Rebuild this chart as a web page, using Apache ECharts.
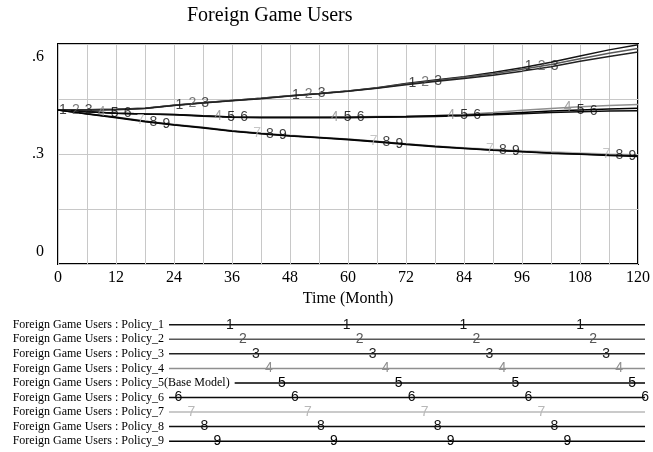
<!DOCTYPE html>
<html>
<head>
<meta charset="utf-8">
<script src="https://cdn.jsdelivr.net/npm/echarts@6/dist/echarts.min.js"></script>
<style>
  html, body { margin: 0; padding: 0; background: #ffffff; }
  #chart { width: 653px; height: 452px; }
</style>
</head>
<body>
<div id="chart"></div>
<script>
// Simulation time (months) for the sampled values below
const months = [0, 6, 12, 18, 24, 30, 36, 42, 48, 54, 60, 66, 72, 78, 84, 90, 96, 102, 108, 114, 120];

// Foreign Game Users under each policy run
const policy1 = [0.420, 0.421, 0.422, 0.425, 0.433, 0.440, 0.446, 0.452, 0.459, 0.465, 0.472, 0.481, 0.492, 0.502, 0.511, 0.522, 0.535, 0.550, 0.567, 0.584, 0.598];
const policy2 = [0.420, 0.421, 0.422, 0.425, 0.433, 0.440, 0.446, 0.452, 0.459, 0.465, 0.472, 0.480, 0.491, 0.500, 0.509, 0.519, 0.531, 0.544, 0.560, 0.575, 0.588];
const policy3 = [0.420, 0.420, 0.421, 0.424, 0.432, 0.439, 0.445, 0.451, 0.458, 0.464, 0.471, 0.479, 0.489, 0.498, 0.506, 0.515, 0.526, 0.538, 0.553, 0.566, 0.578];
const policy4 = [0.420, 0.415, 0.411, 0.409, 0.408, 0.404, 0.401, 0.400, 0.400, 0.400, 0.401, 0.402, 0.403, 0.405, 0.408, 0.413, 0.419, 0.424, 0.429, 0.432, 0.435];
const policy5 = [0.420, 0.415, 0.411, 0.409, 0.408, 0.404, 0.401, 0.400, 0.400, 0.400, 0.400, 0.401, 0.402, 0.404, 0.406, 0.409, 0.413, 0.417, 0.420, 0.423, 0.425];
const policy6 = [0.420, 0.415, 0.411, 0.409, 0.407, 0.403, 0.400, 0.399, 0.399, 0.399, 0.399, 0.400, 0.401, 0.402, 0.404, 0.407, 0.410, 0.413, 0.415, 0.417, 0.418];
const policy7 = [0.420, 0.410, 0.401, 0.390, 0.381, 0.373, 0.364, 0.357, 0.351, 0.346, 0.341, 0.335, 0.328, 0.322, 0.317, 0.313, 0.309, 0.306, 0.303, 0.300, 0.298];
const policy8 = [0.420, 0.410, 0.400, 0.389, 0.380, 0.372, 0.363, 0.356, 0.350, 0.345, 0.340, 0.334, 0.327, 0.321, 0.316, 0.311, 0.307, 0.303, 0.300, 0.297, 0.295];
const policy9 = [0.420, 0.409, 0.399, 0.388, 0.379, 0.371, 0.362, 0.355, 0.349, 0.344, 0.339, 0.333, 0.326, 0.320, 0.315, 0.310, 0.306, 0.302, 0.299, 0.296, 0.293];

const policyRuns = [policy1, policy2, policy3, policy4, policy5, policy6, policy7, policy8, policy9];
const policyNames = [
  'Foreign Game Users : Policy_1',
  'Foreign Game Users : Policy_2',
  'Foreign Game Users : Policy_3',
  'Foreign Game Users : Policy_4',
  'Foreign Game Users : Policy_5(Base Model)',
  'Foreign Game Users : Policy_6',
  'Foreign Game Users : Policy_7',
  'Foreign Game Users : Policy_8',
  'Foreign Game Users : Policy_9'
];
const runNumbers = ['1', '2', '3', '4', '5', '6', '7', '8', '9'];

// Axis tick labels
const xTickLabels = [0, 12, 24, 36, 48, 60, 72, 84, 96, 108, 120];
const yTickLabels = ['0', '.3', '.6'];
const yTickValues = [0, 0.3, 0.6];

// ---- styling ----
const lineColors = ['#141414', '#585858', '#222222', '#8f8f8f', '#000000', '#0a0a0a', '#b8b8b8', '#0f0f0f', '#050505'];
const serif = '"Liberation Serif", "Times New Roman", serif';
const sans = '"Liberation Sans", Arial, sans-serif';

const gridBox = { left: 58, top: 44, right: 14, bottom: 188 };

// Run numbers are stamped along each line, staggered per run
const markFirst = 1, markStagger = 2.68, markPeriod = 24.1;

function toPairs(values) {
  return months.map((m, i) => [m, values[i]]);
}
// point on the drawn polyline at month m, used to seat a run-number label on its line
function pointOnLine(values, m) {
  let i = 0;
  while (i < months.length - 2 && m > months[i + 1]) i++;
  const t = (m - months[i]) / (months[i + 1] - months[i]);
  return [m, values[i] + (values[i + 1] - values[i]) * t];
}

const series = [];
policyRuns.forEach((values, k) => {
  series.push({
    name: policyNames[k],
    type: 'line',
    data: toPairs(values),
    showSymbol: false,
    symbol: 'none',
    lineStyle: { color: lineColors[k], width: 1.5 },
    itemStyle: { color: lineColors[k] },
    z: 3
  });
  const marks = [];
  for (let m = markFirst + markStagger * k; m <= 120; m += markPeriod) {
    marks.push(pointOnLine(values, m));
  }
  series.push({
    type: 'scatter',
    data: marks,
    symbol: 'circle',
    symbolSize: 1,
    itemStyle: { color: 'rgba(0,0,0,0)' },
    label: {
      show: true,
      position: 'inside',
      formatter: runNumbers[k],
      color: lineColors[k],
      fontFamily: sans,
      fontSize: 14
    },
    z: 4
  });
});

// ---- legend block under the plot ----
const measureCtx = document.createElement('canvas').getContext('2d');
const legendFont = '12px ' + serif;
measureCtx.font = legendFont;
const legendX = 12.7, legendTop = 324.7, legendStep = 14.56, legendLineEnd = 645;
const legendMarkFirst = 230, legendMarkStagger = 13, legendMarkPeriod = 116.7;
const graphics = [];
policyNames.forEach((name, k) => {
  const y = legendTop + legendStep * k;
  const lineStart = legendX + measureCtx.measureText(name).width + 5;
  graphics.push({
    type: 'text', silent: true,
    style: { text: name, x: legendX, y: y, font: legendFont, fill: '#000', verticalAlign: 'middle', align: 'left' }
  });
  graphics.push({
    type: 'line', silent: true,
    shape: { x1: lineStart, y1: y, x2: legendLineEnd, y2: y },
    style: { stroke: lineColors[k], lineWidth: 1.5 }
  });
  for (let x = legendMarkFirst + legendMarkStagger * k - legendMarkPeriod; x <= legendLineEnd + 2; x += legendMarkPeriod) {
    if (x < lineStart + 4) continue;
    graphics.push({
      type: 'text', silent: true,
      style: { text: runNumbers[k], x: x, y: y, font: '14px ' + sans, fill: lineColors[k], align: 'center', verticalAlign: 'middle' }
    });
  }
});

function yLabel(v) {
  for (let i = 0; i < yTickValues.length; i++) {
    if (Math.abs(v - yTickValues[i]) < 1e-6) {
      if (i === yTickValues.length - 1) return '{top|' + yTickLabels[i] + '}';
      if (i === 0) return '{bot|' + yTickLabels[i] + '}';
      return yTickLabels[i];
    }
  }
  return '';
}
function xLabel(v) {
  return xTickLabels.indexOf(v) >= 0 ? String(v) : '';
}

const chart = echarts.init(document.getElementById('chart'), null, { renderer: 'canvas' });
chart.setOption({
  animation: false,
  backgroundColor: '#ffffff',
  title: {
    text: 'Foreign Game Users',
    left: 187,
    top: 6,
    padding: 0,
    textStyle: { fontFamily: serif, fontSize: 20, fontWeight: 'normal', color: '#000' }
  },
  grid: Object.assign({ show: true, borderColor: '#000', borderWidth: 2, containLabel: false }, gridBox),
  xAxis: {
    type: 'value',
    min: 0, max: 120, interval: 6,
    axisLine: { show: false },
    axisTick: { show: false },
    splitLine: { show: true, lineStyle: { color: '#c8c8c8', width: 1 } },
    axisLabel: { formatter: xLabel, fontFamily: serif, fontSize: 16, color: '#000', margin: 6, showMinLabel: true, showMaxLabel: true },
    name: 'Time (Month)',
    nameLocation: 'middle',
    nameGap: 27,
    nameTextStyle: { fontFamily: serif, fontSize: 16, color: '#000' }
  },
  yAxis: {
    type: 'value',
    min: 0, max: 0.6, interval: 0.15,
    axisLine: { show: false },
    axisTick: { show: false },
    splitLine: { show: true, lineStyle: { color: '#c8c8c8', width: 1 } },
    axisLabel: {
      formatter: yLabel, fontFamily: serif, fontSize: 16, color: '#000', margin: 14,
      showMinLabel: true, showMaxLabel: true,
      rich: {
        top: { fontFamily: serif, fontSize: 16, color: '#000', padding: [25, 0, 0, 0] },
        bot: { fontFamily: serif, fontSize: 16, color: '#000', padding: [0, 0, 24, 0] }
      }
    }
  },
  graphic: graphics,
  series: series
});
</script>
</body>
</html>
